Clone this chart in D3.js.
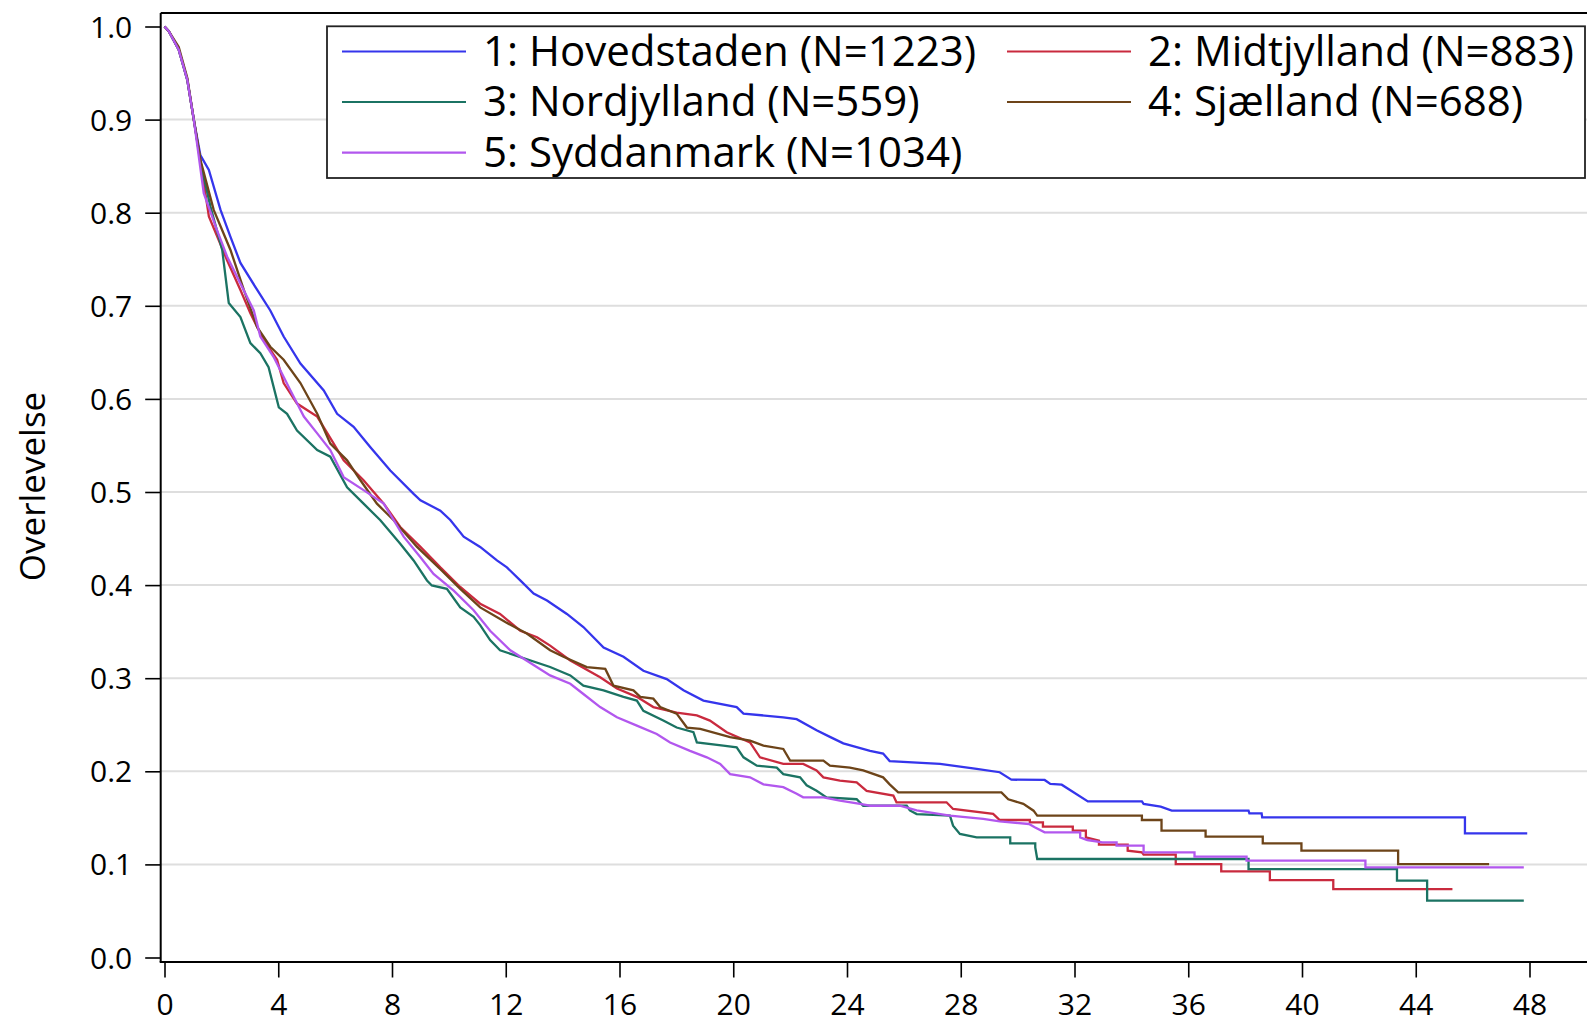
<!DOCTYPE html>
<html>
<head>
<meta charset="utf-8">
<script src="https://cdn.jsdelivr.net/npm/d3@7"></script>
<style>
  html, body { margin: 0; padding: 0; background: #fff; }
  svg { display: block; font-family: "Open Sans", "Noto Sans", sans-serif; }
</style>
</head>
<body>
<script>
// Kaplan–Meier survival by region: [months, survival proportion]
const regions = ["1: Hovedstaden (N=1223)", "2: Midtjylland (N=883)", "3: Nordjylland (N=559)",
                 "4: Sjælland (N=688)", "5: Syddanmark (N=1034)"];
const regionColors = ["#3535ec", "#c92a3e", "#1b7363", "#6d4419", "#b257ee"];

const hovedstaden = [[0,1],[0.15,0.995],[0.5,0.975],[0.8,0.943],[1.03,0.9],[1.26,0.862],[1.56,0.846],[1.97,0.803],
  [2.32,0.774],[2.67,0.746],[3.26,0.717],[3.72,0.695],[4.19,0.667],[4.78,0.638],[5.6,0.609],[6.07,0.584],[6.65,0.570],
  [7.24,0.548],[7.94,0.523],[8.76,0.498],[9.0,0.491],[9.7,0.480],[10.05,0.470],[10.52,0.452],[11.1,0.441],[11.69,0.4265],
  [12.04,0.419],[12.51,0.405],[12.98,0.391],[13.45,0.3835],[14.15,0.369],[14.73,0.355],[15.44,0.333],[16.14,0.323],
  [16.84,0.308],[17.66,0.299],[18.25,0.287],[18.95,0.276],[20.12,0.269],[20.36,0.262],[21.76,0.258],[22.23,0.256],
  [22.93,0.244],[23.4,0.237],[23.87,0.230],[24.81,0.222],[25.27,0.219],[25.5,0.211],[27.27,0.208],[28.56,0.2026],
  [29.37,0.199],[29.78,0.191],[30.95,0.1907],[31.15,0.1864],[31.55,0.1856],[32.47,0.1677],[34.37,0.1677],[34.43,0.165],
  [35.03,0.162],[35.42,0.1577],[38.12,0.1577],[38.15,0.1548],[38.58,0.1548],[38.6,0.1505],[45.73,0.1505],
  [45.73,0.1333],[47.92,0.1333]];

const midtjylland = [[0,1],[0.15,0.995],[0.5,0.975],[0.8,0.943],[1.03,0.9],[1.26,0.857],[1.56,0.796],[2.2,0.749],
  [2.67,0.717],[3.02,0.692],[3.49,0.663],[3.96,0.642],[4.19,0.617],[4.66,0.595],[5.37,0.581],[5.95,0.552],[6.3,0.534],
  [7.0,0.5126],[7.71,0.4875],[8.29,0.4624],[9.0,0.441],[9.7,0.419],[10.4,0.398],[11.1,0.38],[11.8,0.369],[12.51,0.351],
  [13.1,0.344],[13.56,0.335],[14.27,0.319],[15.32,0.301],[15.91,0.289],[16.61,0.280],[17.19,0.269],[18.01,0.263],
  [18.72,0.260],[19.18,0.2545],[19.77,0.242],[20.59,0.231],[20.94,0.215],[21.76,0.208],[22.46,0.208],[22.93,0.201],
  [23.17,0.1935],[23.75,0.19],[24.34,0.188],[24.69,0.179],[25.63,0.174],[25.74,0.1667],[27.5,0.1667],[27.73,0.1595],
  [29.14,0.1542],[29.37,0.1477],[30.43,0.1477],[30.43,0.1452],[30.89,0.1452],[30.89,0.1405],[31.94,0.1405],
  [31.94,0.1362],[32.4,0.1362],[32.4,0.129],[32.86,0.1255],[32.86,0.1212],[33.87,0.1212],[33.87,0.1147],[34.37,0.113],
  [34.43,0.1104],[35.56,0.1104],[35.56,0.1004],[37.16,0.1004],[37.16,0.0925],[38.87,0.0925],[38.87,0.0832],
  [41.1,0.0832],[41.1,0.0735],[45.29,0.0735]];

const nordjylland = [[0,1],[0.15,0.995],[0.5,0.975],[0.8,0.943],[1.03,0.9],[1.26,0.855],[1.62,0.806],[2.03,0.760],
  [2.26,0.703],[2.67,0.688],[3.02,0.660],[3.37,0.649],[3.66,0.634],[4.02,0.591],[4.31,0.584],[4.66,0.566],[5.37,0.545],
  [5.83,0.538],[6.42,0.505],[7.0,0.4875],[7.59,0.4696],[8.29,0.4445],[8.76,0.4265],[9.23,0.405],[9.4,0.3996],
  [9.93,0.396],[10.4,0.376],[10.87,0.366],[11.1,0.357],[11.45,0.341],[11.8,0.330],[13.56,0.312],[14.27,0.303],
  [14.73,0.292],[15.44,0.287],[16.14,0.280],[16.61,0.276],[16.84,0.265],[17.54,0.2545],[18.01,0.247],[18.6,0.242],
  [18.72,0.231],[19.65,0.2276],[20.12,0.2258],[20.36,0.215],[20.83,0.206],[21.53,0.204],[21.76,0.197],[22.35,0.1935],
  [22.58,0.185],[22.93,0.179],[23.28,0.172],[24.34,0.170],[24.57,0.163],[26.1,0.163],[26.21,0.158],[26.45,0.154],
  [27.62,0.1524],[27.73,0.1416],[27.97,0.1327],[28.56,0.129],[29.74,0.129],[29.74,0.1226],[30.62,0.1226],
  [30.62,0.1183],[30.69,0.1058],[38.12,0.1058],[38.12,0.095],[43.34,0.095],[43.34,0.0825],[44.4,0.0825],
  [44.4,0.061],[47.8,0.061]];

const sjaelland = [[0,1],[0.15,0.995],[0.5,0.978],[0.8,0.945],[1.03,0.9],[1.26,0.857],[1.73,0.803],[2.32,0.760],
  [2.79,0.717],[3.26,0.677],[3.72,0.656],[4.19,0.642],[4.78,0.617],[5.37,0.584],[5.83,0.552],[6.42,0.534],[6.89,0.5126],
  [7.47,0.4875],[8.06,0.4696],[8.88,0.441],[9.7,0.417],[10.4,0.396],[11.1,0.376],[12.0,0.36],[12.74,0.348],[13.56,0.330],
  [14.03,0.323],[14.85,0.312],[15.5,0.310],[15.79,0.292],[16.49,0.287],[16.73,0.280],[17.19,0.278],[17.43,0.269],
  [18.01,0.262],[18.37,0.247],[18.84,0.2455],[19.89,0.2366],[20.59,0.233],[21.06,0.2276],[21.76,0.224],[22.0,0.2115],
  [23.17,0.2115],[23.4,0.206],[24.1,0.204],[24.57,0.201],[25.27,0.1935],[25.5,0.186],[25.8,0.1774],[29.43,0.1774],
  [29.67,0.170],[30.2,0.165],[30.56,0.1577],[30.69,0.1524],[34.37,0.1524],[34.37,0.1477],[35.06,0.1477],[35.06,0.1362],
  [36.61,0.1362],[36.61,0.1298],[38.62,0.1298],[38.62,0.1226],[39.98,0.1226],[39.98,0.1147],[43.38,0.1147],
  [43.38,0.1004],[46.58,0.1004]];

const syddanmark = [[0,1],[0.15,0.995],[0.5,0.975],[0.8,0.943],[1.03,0.9],[1.38,0.821],[1.85,0.781],[2.2,0.753],
  [2.67,0.724],[3.14,0.695],[3.37,0.667],[3.84,0.645],[4.43,0.609],[4.9,0.581],[5.37,0.563],[5.83,0.545],[6.3,0.516],
  [7.0,0.502],[7.71,0.4875],[8.41,0.452],[9.0,0.43],[9.46,0.412],[10.17,0.394],[10.87,0.373],[11.45,0.351],[12.16,0.330],
  [13.56,0.303],[14.27,0.294],[14.73,0.283],[15.32,0.269],[15.91,0.258],[16.61,0.249],[17.31,0.240],[17.78,0.231],
  [18.48,0.222],[19.07,0.215],[19.54,0.208],[19.89,0.197],[20.59,0.1935],[21.06,0.186],[21.76,0.183],[22.23,0.176],
  [22.46,0.172],[23.17,0.172],[23.75,0.1685],[24.46,0.165],[24.81,0.163],[25.86,0.163],[26.45,0.158],[27.62,0.1524],
  [28.79,0.149],[29.37,0.1462],[30.4,0.1434],[30.6,0.140],[30.95,0.1344],[32.2,0.1344],[32.2,0.129],[32.45,0.1262],
  [32.98,0.1237],[33.48,0.1237],[33.48,0.1201],[34.43,0.1201],[34.43,0.1129],[36.22,0.1129],[36.22,0.1083],
  [38.05,0.1083],[38.05,0.104],[42.23,0.104],[42.23,0.0968],[47.8,0.0968]];

const seriesData = [hovedstaden, midtjylland, nordjylland, sjaelland, syddanmark];

const xTicks = [0, 4, 8, 12, 16, 20, 24, 28, 32, 36, 40, 44, 48];
const yTicks = [0.0, 0.1, 0.2, 0.3, 0.4, 0.5, 0.6, 0.7, 0.8, 0.9, 1.0];
const gridValues = [0.1, 0.2, 0.3, 0.4, 0.5, 0.6, 0.7, 0.8, 0.9];
const yTitle = "Overlevelse";

const W = 1587, H = 1023;
const frame = { left: 160.7, top: 13, bottom: 962, right: 1600 };

const x = d3.scaleLinear().domain([0, 48]).range([164.5, 1529.5]);
const y = d3.scaleLinear().domain([0, 1]).range([957.5, 26.5]);

const svg = d3.select("body").append("svg").attr("width", W).attr("height", H);

// horizontal reference lines
svg.append("g").selectAll("line").data(gridValues).join("line")
  .attr("x1", frame.left).attr("x2", frame.right)
  .attr("y1", d => y(d)).attr("y2", d => y(d))
  .attr("stroke", "#dedede").attr("stroke-width", 2);

// survival curves (drawn in group order, last on top)
const line = d3.line().x(d => x(d[0])).y(d => y(d[1]));
svg.append("g").selectAll("path").data(seriesData).join("path")
  .attr("d", line)
  .attr("fill", "none")
  .attr("stroke", (d, i) => regionColors[i])
  .attr("stroke-width", 2.3);

// frame
const fg = svg.append("g").attr("stroke", "#000").attr("stroke-width", 2);
fg.append("line").attr("x1", frame.left).attr("x2", frame.right).attr("y1", frame.top).attr("y2", frame.top);
fg.append("line").attr("x1", frame.left).attr("x2", frame.left).attr("y1", frame.top).attr("y2", frame.bottom);
fg.append("line").attr("x1", frame.left - 1).attr("x2", frame.right).attr("y1", frame.bottom).attr("y2", frame.bottom);

// y axis
const yAxis = svg.append("g").attr("transform", `translate(${frame.left},0)`)
  .call(d3.axisLeft(y).tickValues(yTicks).tickFormat(d3.format(".1f")).tickSize(15.5).tickPadding(13));
yAxis.select(".domain").remove();
yAxis.selectAll(".tick line").attr("stroke", "#000").attr("stroke-width", 1.6);
yAxis.selectAll(".tick text").attr("font-family", "Open Sans").attr("font-size", 30).attr("fill", "#000")
  .attr("dy", null).attr("dominant-baseline", "auto").attr("y", 10.5);

// x axis
const xAxis = svg.append("g").attr("transform", `translate(0,${frame.bottom})`)
  .call(d3.axisBottom(x).tickValues(xTicks).tickFormat(d3.format("d")).tickSize(15.5).tickPadding(19));
xAxis.select(".domain").remove();
xAxis.selectAll(".tick line").attr("stroke", "#000").attr("stroke-width", 1.6);
xAxis.selectAll(".tick text").attr("font-family", "Open Sans").attr("font-size", 30).attr("fill", "#000")
  .attr("dy", null).attr("y", 52.5);

// y axis title
svg.append("text")
  .attr("transform", `translate(44.5,486.5) rotate(-90)`)
  .attr("text-anchor", "middle")
  .attr("font-family", "Open Sans").attr("font-size", 35).attr("fill", "#000")
  .text(yTitle);

// legend
const legend = svg.append("g");
legend.append("rect")
  .attr("x", 327).attr("y", 26.3).attr("width", 1258).attr("height", 151.7)
  .attr("fill", "#fff").attr("stroke", "#222").attr("stroke-width", 1.8);

const colX = [342, 1007];
const rowY = [51.5, 102, 152.6];
const items = legend.selectAll("g.item").data(regions).join("g").attr("class", "item")
  .attr("transform", (d, i) => `translate(${colX[i % 2]},${rowY[Math.floor(i / 2)]})`);
items.append("line").attr("x1", 0).attr("x2", 124).attr("y1", 0).attr("y2", 0)
  .attr("stroke", (d, i) => regionColors[i]).attr("stroke-width", 2.2);
items.append("text").attr("x", 141).attr("y", 14.4)
  .attr("font-family", "Open Sans").attr("font-size", 42).attr("fill", "#000")
  .text(d => d);
</script>
</body>
</html>
